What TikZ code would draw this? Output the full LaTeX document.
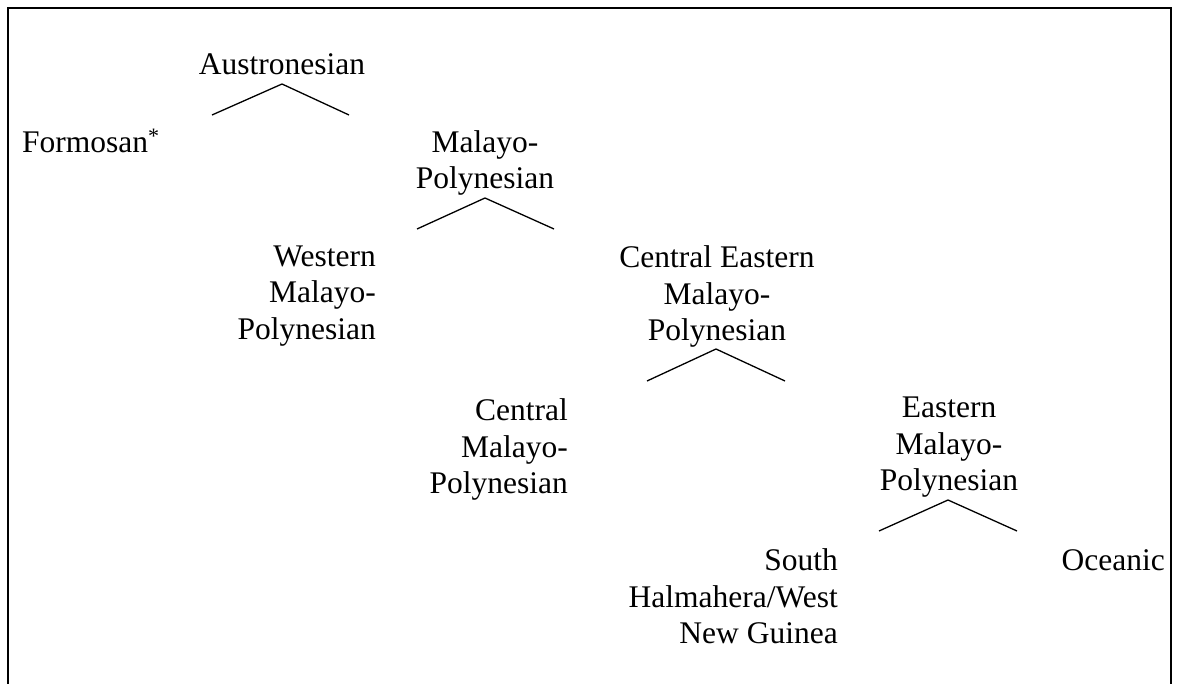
\documentclass[tikz,border=0pt]{standalone}
\usepackage{fontspec}
\setmainfont{Liberation Serif}
\usepackage{tikz}

\begin{document}
\begin{tikzpicture}[
  x=1pt, y=-1pt,
  lang/.style={inner sep=0pt, font=\fontsize{31.5}{36.5}\selectfont},
  caret/.style={line width=1.3pt},
  frame/.style={line width=1.8pt}
]
  \useasboundingbox (0,0) rectangle (1180,684);

  % open box round the tree
  \coordinate (fr-bl) at (8,684);
  \coordinate (fr-tl) at (8,8);
  \coordinate (fr-tr) at (1171,8);
  \coordinate (fr-br) at (1171,684);
  \draw[frame] (fr-bl) -- (fr-tl) -- (fr-tr) -- (fr-br);

  \node[lang, anchor=base] (aus) at (282,75) {Austronesian};
  \node[lang, anchor=base west] (form) at (22,153) {Formosan\textsuperscript{*}};
  \node[lang, align=center, anchor=north] (mp) at (485,130) {Malayo-\\Polynesian};
  \node[lang, align=right, anchor=north east] (wmp) at (376,245.5) {Western\\Malayo-\\Polynesian};
  \node[lang, align=center, anchor=north] (cemp) at (717,245.5) {Central Eastern\\Malayo-\\Polynesian};
  \node[lang, align=right, anchor=north east] (cmp) at (568,398.5) {Central\\Malayo-\\Polynesian};
  \node[lang, align=center, anchor=north] (emp) at (949,397) {Eastern\\Malayo-\\Polynesian};
  \node[lang, align=right, anchor=north east] (shwng) at (838,548.5) {South\\Halmahera/West\\New Guinea};
  \node[lang, anchor=base east] (oc) at (1165,570) {Oceanic};

  % branch carets
  \coordinate (aus-tip) at (282,84);
  \coordinate (aus-l) at (212,115);
  \coordinate (aus-r) at (349,115);
  \coordinate (mp-tip) at (485,198);
  \coordinate (mp-l) at (417,229);
  \coordinate (mp-r) at (554,229);
  \coordinate (cemp-tip) at (716,349);
  \coordinate (cemp-l) at (647,381);
  \coordinate (cemp-r) at (785,381);
  \coordinate (emp-tip) at (948,500);
  \coordinate (emp-l) at (879,531);
  \coordinate (emp-r) at (1017,531);

  \draw[caret] (aus-l) -- (aus-tip) -- (aus-r);
  \draw[caret] (mp-l) -- (mp-tip) -- (mp-r);
  \draw[caret] (cemp-l) -- (cemp-tip) -- (cemp-r);
  \draw[caret] (emp-l) -- (emp-tip) -- (emp-r);
\end{tikzpicture}
\end{document}
